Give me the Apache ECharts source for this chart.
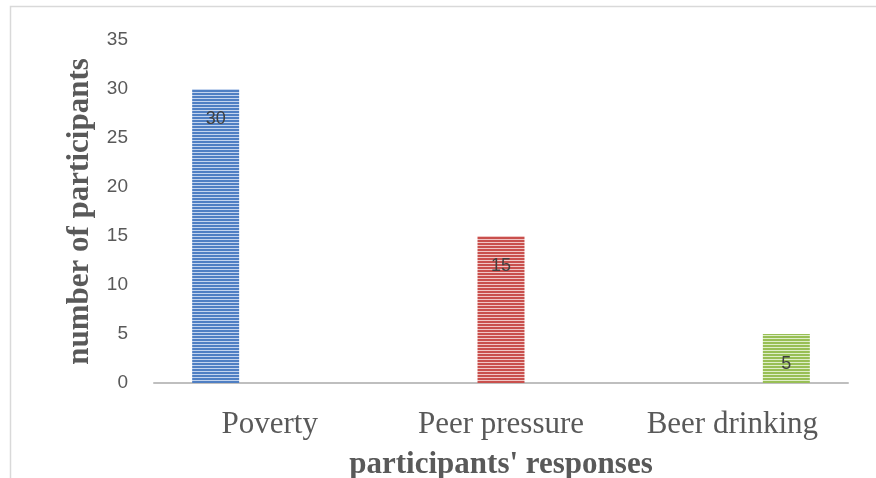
<!DOCTYPE html>
<html>
<head>
<meta charset="utf-8">
<script src="https://cdn.jsdelivr.net/npm/echarts@6/dist/echarts.min.js"></script>
<style>
  html, body { margin: 0; padding: 0; background: #fff; }
  #chart { width: 876px; height: 478px; }
</style>
</head>
<body>
<div id="chart"></div>
<script>
// Survey responses: number of participants per reason
const categories = ['Poverty', 'Peer pressure', 'Beer drinking'];
const participants = [30, 15, 5];
const yTicks = { min: 0, max: 35, interval: 5 };

// Horizontal-stripe fills for each bar
const stripeColors = [
  { dark: '#4f7fc3', light: '#c3d4ee' },
  { dark: '#c9504d', light: '#f0c6c5' },
  { dark: '#98bf55', light: '#dfeec9' }
];

function stripePattern(dark, light) {
  const c = document.createElement('canvas');
  c.width = 4; c.height = 3;
  const ctx = c.getContext('2d');
  ctx.fillStyle = light;
  ctx.fillRect(0, 0, 4, 3);
  ctx.fillStyle = dark;
  ctx.fillRect(0, 0, 4, 2);
  return { image: c, repeat: 'repeat' };
}

const series = categories.map((name, i) => ({
  name: name,
  type: 'bar',
  barGap: '15%',
  barCategoryGap: '33%',
  data: categories.map((_, j) => (j === i ? participants[i] : '-')),
  itemStyle: { color: stripePattern(stripeColors[i].dark, stripeColors[i].light) },
  label: {
    show: true,
    position: 'insideTop',
    distance: 21,
    color: '#404040',
    fontFamily: 'Liberation Sans',
    fontSize: 18
  }
}));

const chart = echarts.init(document.getElementById('chart'), null, { renderer: 'canvas' });
chart.setOption({
  animation: false,
  backgroundColor: '#fff',
  graphic: [{
    type: 'rect',
    shape: { x: 10.5, y: 6.5, width: 900, height: 500 },
    style: { fill: 'none', stroke: '#d9d9d9', lineWidth: 1.5 },
    silent: true
  }],
  grid: {
    left: 154, right: 28, top: 40, bottom: 95,
    containLabel: false,
    outerBoundsMode: 'none'
  },
  xAxis: {
    type: 'category',
    data: categories,
    name: "participants' responses",
    nameLocation: 'middle',
    nameGap: 66,
    nameTextStyle: {
      fontFamily: 'Liberation Serif', fontWeight: 'bold', fontSize: 31, color: '#595959'
    },
    axisLine: { lineStyle: { color: '#bfbfbf', width: 2 } },
    axisTick: { show: false },
    axisLabel: {
      margin: 26,
      fontFamily: 'Liberation Serif', fontSize: 31, color: '#595959'
    }
  },
  yAxis: {
    type: 'value',
    min: yTicks.min,
    max: yTicks.max,
    interval: yTicks.interval,
    name: 'number of participants',
    nameLocation: 'middle',
    nameGap: 43,
    nameRotate: 90,
    nameTextStyle: {
      fontFamily: 'Liberation Serif', fontWeight: 'bold', fontSize: 31, color: '#595959'
    },
    axisLine: { show: false },
    axisTick: { show: false },
    splitLine: { show: false },
    axisLabel: {
      margin: 26,
      fontFamily: 'Liberation Sans', fontSize: 19, color: '#595959'
    }
  },
  series: series
});
</script>
</body>
</html>
